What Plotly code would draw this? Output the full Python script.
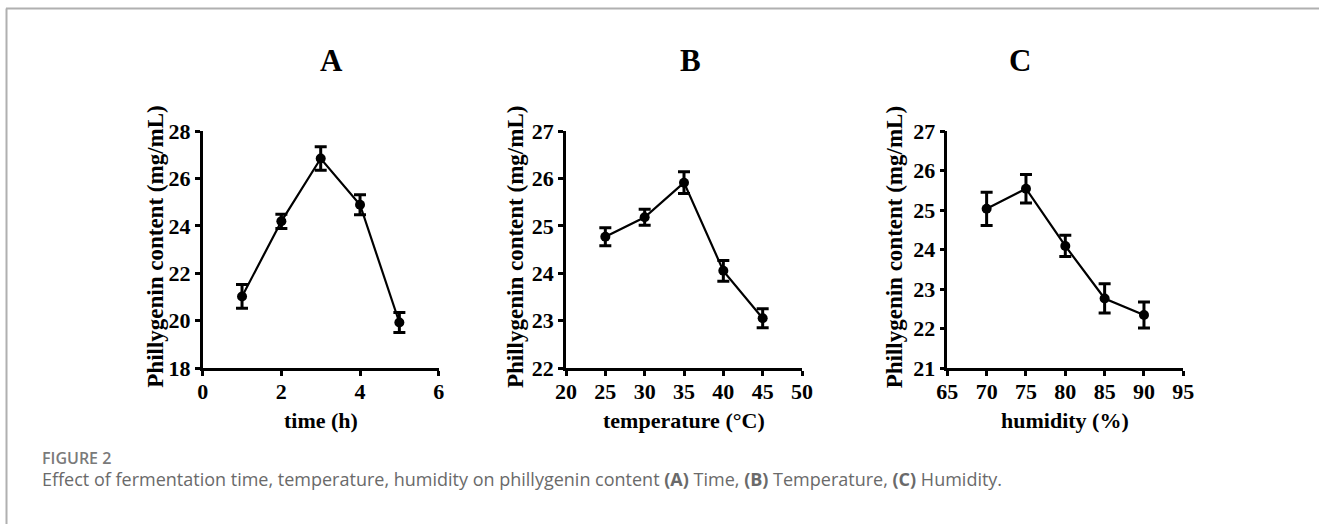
import plotly.graph_objects as go

W, H = 1319, 524

# ---- data ----
time_h = [1, 2, 3, 4, 5]
time_val = [21.02, 24.19, 26.84, 24.89, 19.92]
time_err = [0.50, 0.30, 0.50, 0.42, 0.42]

temp_c = [25, 30, 35, 40, 45]
temp_val = [24.77, 25.18, 25.91, 24.05, 23.05]
temp_err = [0.19, 0.17, 0.23, 0.22, 0.20]

hum_pct = [70, 75, 80, 85, 90]
hum_val = [25.03, 25.54, 24.09, 22.76, 22.34]
hum_err = [0.42, 0.36, 0.27, 0.37, 0.33]

panel_letters = ["A", "B", "C"]
x_titles = ["time (h)", "temperature (°C)", "humidity (%)"]
y_title = "Phillygenin content (mg/mL)"
x_ranges = [[0, 6], [20, 50], [65, 95]]
x_dticks = [2, 5, 5]
y_ranges = [[18, 28], [22, 27], [21, 27]]
y_dticks = [2, 1, 1]
caption_head = "FIGURE 2"
caption_text = ("Effect of fermentation time, temperature, humidity on phillygenin content "
                "<b>(A)</b> Time, <b>(B)</b> Temperature, <b>(C)</b> Humidity.")

# ---- layout geometry (pixels) ----
plot_left = [202.7, 566.0, 947.3]
plot_w = 236.0
plot_top, plot_bottom = 131.0, 368.0
letter_x = [331, 690, 1020]
ytitle_offset = [48, 51, 53]

def px(x):
    return x / W

def py(y):
    return 1 - y / H

SERIF = "Liberation Serif, Times New Roman, serif"
series = [(time_h, time_val, time_err), (temp_c, temp_val, temp_err), (hum_pct, hum_val, hum_err)]

fig = go.Figure()
annotations = []
for i, (xs, ys, es) in enumerate(series):
    n = "" if i == 0 else str(i + 1)
    fig.add_trace(go.Scatter(
        x=xs, y=ys, mode="lines+markers",
        xaxis="x" + n, yaxis="y" + n,
        line=dict(color="black", width=2.2),
        marker=dict(color="black", size=10, symbol="circle"),
        error_y=dict(type="data", array=es, visible=True, color="black", thickness=3, width=6),
        showlegend=False, hoverinfo="x+y",
    ))
    axis_common = dict(
        showline=True, linecolor="black", linewidth=2.5,
        ticks="outside", ticklen=5, tickwidth=2.5, tickcolor="black",
        showgrid=False, zeroline=False, automargin=False,
        tickfont=dict(family=SERIF, size=22, color="black", weight="bold"),
        fixedrange=True,
    )
    fig.layout["xaxis" + n] = dict(
        axis_common,
        domain=[px(plot_left[i]), px(plot_left[i] + plot_w)],
        range=x_ranges[i], dtick=x_dticks[i], tick0=x_ranges[i][0],
        anchor="y" + n, ticklabelstandoff=-3,
    )
    fig.layout["yaxis" + n] = dict(
        axis_common,
        domain=[py(plot_bottom), py(plot_top)],
        range=y_ranges[i], dtick=y_dticks[i], tick0=y_ranges[i][0],
        anchor="x" + n,
    )
    annotations.append(dict(
        text=panel_letters[i], x=px(letter_x[i]), y=py(61), xref="paper", yref="paper",
        xanchor="center", yanchor="middle", showarrow=False,
        font=dict(family=SERIF, size=31, color="black", weight="bold"),
    ))
    annotations.append(dict(
        text=x_titles[i], x=px(plot_left[i] + plot_w / 2), y=py(420), xref="paper", yref="paper",
        xanchor="center", yanchor="middle", showarrow=False,
        font=dict(family=SERIF, size=22, color="black", weight="bold"),
    ))
    annotations.append(dict(
        text=y_title, x=px(plot_left[i] - ytitle_offset[i]), y=py(247), xref="paper", yref="paper",
        xanchor="center", yanchor="middle", showarrow=False, textangle=-90,
        font=dict(family=SERIF, size=23, color="black", weight="bold"),
    ))

annotations.append(dict(
    text=caption_head, x=px(40), y=py(458), xref="paper", yref="paper",
    xanchor="left", yanchor="middle", showarrow=False,
    font=dict(family="Open Sans, sans-serif", size=16, color="#7a7a7a", weight=600),
))
annotations.append(dict(
    text=caption_text, x=px(40), y=py(479), xref="paper", yref="paper",
    xanchor="left", yanchor="middle", showarrow=False,
    font=dict(family="Open Sans, sans-serif", size=18, color="#6a6a6a"),
))

shapes = [
    dict(type="line", xref="paper", yref="paper", x0=px(6), x1=1, y0=py(8.5), y1=py(8.5),
         line=dict(color="#b0b0b0", width=2)),
    dict(type="line", xref="paper", yref="paper", x0=px(6.5), x1=px(6.5), y0=py(8.5), y1=0,
         line=dict(color="#b0b0b0", width=2)),
]

fig.update_layout(
    template="none",
    width=W, height=H,
    margin=dict(l=0, r=0, t=0, b=0, pad=0, autoexpand=False),
    paper_bgcolor="white", plot_bgcolor="white",
    annotations=annotations, shapes=shapes,
)

fig.write_html(
    "out.html",
    config={"displayModeBar": False},
    post_script="document.body.style.margin='0';document.body.style.overflow='hidden';",
)
